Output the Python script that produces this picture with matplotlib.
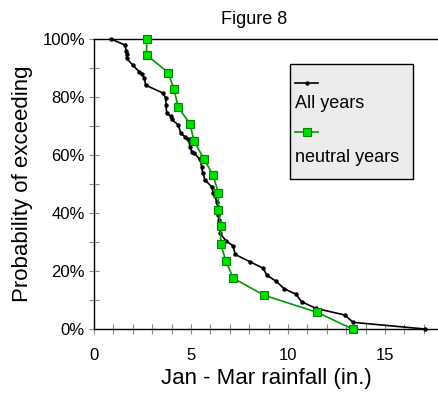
import matplotlib
matplotlib.use('Agg')
import matplotlib.pyplot as plt
from matplotlib.patches import Rectangle
from matplotlib.lines import Line2D
from matplotlib.ticker import MultipleLocator, FuncFormatter

plt.rcParams['font.family'] = ['Liberation Sans', 'DejaVu Sans']

# All years: rainfall (in.) vs probability of exceeding (%)
all_rain = [0.88, 1.6, 1.65, 1.68, 1.68, 2.0, 2.33, 2.46, 2.6, 2.66, 3.57, 3.7,
            3.71, 3.75, 3.95, 4.0, 4.35, 4.47, 4.69, 4.86, 4.95, 5.04, 5.17,
            5.46, 5.55, 5.6, 5.72, 6.07, 6.15, 6.24, 6.32, 6.37, 6.41, 6.44,
            6.46, 6.5, 6.8, 7.18, 7.27, 8.04, 8.73, 8.9, 9.38, 9.8, 10.41,
            10.7, 11.44, 12.94, 13.35, 17.06]
all_prob = [100, 97.9, 96, 94.8, 93.3, 91, 88.7, 88, 86.4, 84.1, 81.3, 79.5,
            77.2, 74.4, 73.4, 72.3, 70.3, 67.5, 66.3, 65.4, 62.9, 61.1, 60.6,
            58.5, 56, 53.9, 51.4, 49, 46.8, 45.9, 43.9, 42.2, 39.3, 37.6,
            35.3, 33, 30.4, 28.6, 25.7, 23.2, 20.9, 18.6, 16.5, 13.9, 12,
            9.4, 7.1, 4.8, 2.3, 0]

# Neutral years
neu_rain = [2.71, 2.71, 3.83, 4.12, 4.35, 4.95, 5.15, 5.67, 6.13, 6.41, 6.41,
            6.53, 6.53, 6.8, 7.18, 8.78, 11.48, 13.33]
neu_prob = [100, 94.5, 88.4, 82.6, 76.4, 70.7, 64.9, 58.6, 53.1, 47, 41,
            35.5, 29.3, 23.4, 17.5, 11.6, 5.8, 0]

W, H = 438, 395
fig = plt.figure(figsize=(W / 100, H / 100), dpi=100)
ax = fig.add_axes([94 / W, (H - 329) / H, 1 - 94 / W, 290 / H])

ax.plot(all_rain, all_prob, color='black', lw=1.2, marker='o', ms=2.2,
        clip_on=False, zorder=3)
ax.plot(neu_rain, neu_prob, color='#009900', lw=1.2, marker='s', ms=6,
        mfc='#00dd00', mec='#008800', mew=0.8, clip_on=False, zorder=4)

ax.set_xlim(0, 17.73)
ax.set_ylim(0, 100)
ax.spines['right'].set_visible(False)
for s in ['left', 'top', 'bottom']:
    ax.spines[s].set_linewidth(1.0)

ax.xaxis.set_major_locator(MultipleLocator(5))
ax.xaxis.set_minor_locator(MultipleLocator(1))
ax.yaxis.set_major_locator(MultipleLocator(20))
ax.yaxis.set_minor_locator(MultipleLocator(10))
ax.yaxis.set_major_formatter(FuncFormatter(lambda v, p: f'{int(v)}%'))
ax.tick_params(axis='both', which='both', direction='inout', length=7,
               width=0.8, color='#888888', labelsize=12)
ax.tick_params(axis='x', pad=10)
ax.tick_params(axis='y', pad=3)

ax.set_xlabel('Jan - Mar rainfall (in.)', fontsize=16, labelpad=4)
ax.set_ylabel('Probability of exceeding', fontsize=16, labelpad=7)

fig.text(254 / W, 1 - 20 / H, 'Figure 8', fontsize=13, ha='center', va='center')

# legend box drawn in pixel positions
def fx(x):
    return x / W

def fy(y):
    return 1 - y / H

fig.add_artist(Rectangle((fx(290), fy(179)), fx(413) - fx(290), fy(64) - fy(179),
                         transform=fig.transFigure, facecolor='#ececec',
                         edgecolor='black', lw=1.0, zorder=5))
fig.add_artist(Line2D([fx(295), fx(318)], [fy(83), fy(83)], color='black', lw=1.2,
                      transform=fig.transFigure, zorder=6))
fig.add_artist(Line2D([fx(306.5)], [fy(83)], color='black', marker='o', ms=2.2,
                      transform=fig.transFigure, zorder=6))
fig.text(fx(295), fy(104), 'All years', fontsize=13, va='center', zorder=6)
fig.add_artist(Line2D([fx(295), fx(318)], [fy(132), fy(132)], color='#009900', lw=1.2,
                      transform=fig.transFigure, zorder=6))
fig.add_artist(Line2D([fx(306.5)], [fy(132)], color='#009900', marker='s', ms=6,
                      mfc='#00dd00', mec='#008800', mew=0.8,
                      transform=fig.transFigure, zorder=6))
fig.text(fx(295), fy(157), 'neutral years', fontsize=13, va='center', zorder=6)

fig.savefig('out.png', dpi=100)
